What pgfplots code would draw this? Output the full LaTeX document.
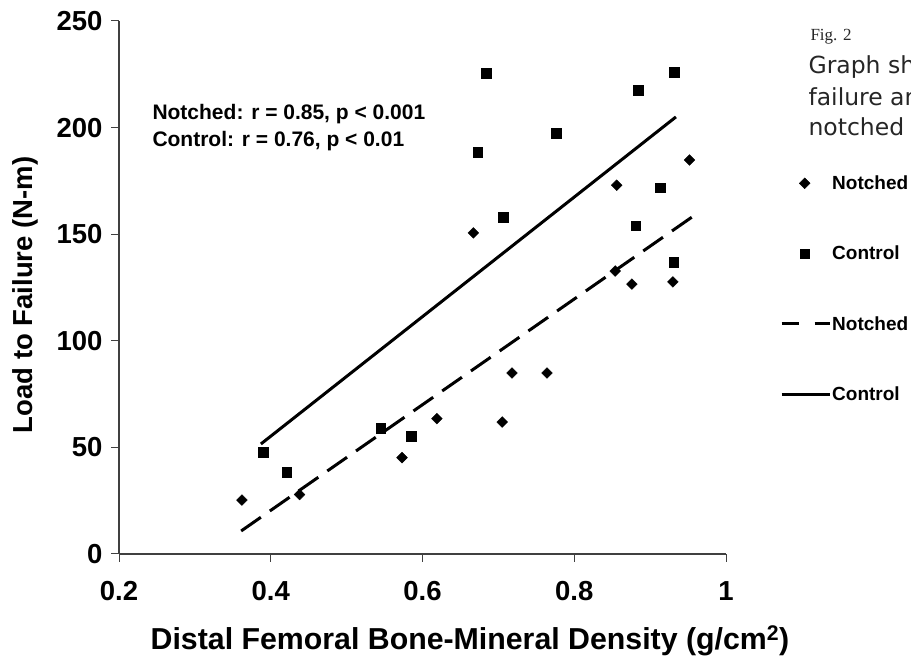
\documentclass[border=0pt]{standalone}
\usepackage{pgfplots}
\pgfplotsset{compat=1.18}
\usepackage{fontspec}
\setmainfont{Liberation Sans}
\newfontfamily\capserif{Liberation Serif}
\newfontfamily\capsans{DejaVu Sans}

\begin{document}
\begin{tikzpicture}[x=1pt,y=1pt]
\useasboundingbox (0,0) rectangle (911,656);
\begin{axis}[
  at={(119pt,102pt)}, anchor=south west,
  scale only axis, width=607pt, height=533pt,
  xmin=0.2, xmax=1, ymin=0, ymax=250,
  axis lines*=left,
  axis line style={line width=1.1pt, black!75},
  xtick={0.2,0.4,0.6,0.8,1}, ytick={0,50,100,150,200,250},
  tick align=outside, major tick length=8pt,
  tick style={line width=1pt, black!75},
  tick label style={font=\fontsize{27.5}{31}\selectfont\bfseries},
  /pgf/number format/assume math mode=true,
  xticklabel style={yshift=-16pt},
  yticklabel style={xshift=-5pt},
  clip=false,
  legend cell align=left,
  legend style={draw=none, fill=none, at={(rel axis cs:1.089,0.712)}, anchor=north west,
    font=\fontsize{19}{23}\selectfont\bfseries, row sep=53pt, inner sep=0pt,
    nodes={inner sep=1pt}},
  legend image code/.code={\draw[mark repeat=2,mark phase=2,#1] plot coordinates {(0pt,0pt) (23pt,0pt) (48pt,0pt)};},
]
% notched specimens
\addplot[only marks, mark=square*, mark size=3.8pt, mark options={rotate=45}] coordinates {
 (0.362,25.3) (0.438,27.9) (0.573,45.2) (0.619,63.5) (0.667,150.6) (0.705,61.9)
 (0.718,84.9) (0.764,84.9) (0.854,132.7) (0.856,173.0) (0.876,126.6) (0.930,127.6) (0.952,184.8) };
\addlegendentry{Notched}
% control specimens
\addplot[only marks, mark=square*, mark size=4.8pt] coordinates {
 (0.390,47.8) (0.421,38.5) (0.545,59.1) (0.585,55.3) (0.673,188.5) (0.684,225.6)
 (0.706,158.0) (0.776,197.4) (0.881,153.9) (0.884,217.6) (0.913,171.8) (0.931,137.0) (0.932,225.9) };
\addlegendentry{Control}
% regression lines
\addplot[line width=3pt, dash pattern=on 24pt off 11pt,
  legend image code/.code={\draw[line width=3pt, dash pattern=on 17pt off 16pt] (0pt,0pt) -- (48pt,0pt);}]
  coordinates {(0.361,10.8) (0.955,158.0)};
\addlegendentry{Notched}
\addplot[line width=3pt] coordinates {(0.387,51.6) (0.934,205.0)};
\addlegendentry{Control}

\node[anchor=west, align=left, font=\fontsize{21}{27}\selectfont\bfseries]
  at (axis cs:0.2395,200) {Notched: r = 0.85, p < 0.001\\Control: r = 0.76, p < 0.01};
\end{axis}

\node[rotate=90, font=\fontsize{27.5}{30}\selectfont\bfseries] at (25,361) {Load to Failure (N-m)};
\node[font=\fontsize{30.3}{34}\selectfont\bfseries] at (470,15) {Distal Femoral Bone-Mineral Density (g/cm\textsuperscript{2})};

\node[anchor=west, font=\capserif\fontsize{17}{20}\selectfont, black!85] at (807,619) {Fig. 2};
\node[anchor=west, font=\capsans\fontsize{23.5}{27}\selectfont, black!85] at (805,589) {Graph showing the};
\node[anchor=west, font=\capsans\fontsize{23.5}{27}\selectfont, black!85] at (805,559) {failure and bone};
\node[anchor=west, font=\capsans\fontsize{23.5}{27}\selectfont, black!85] at (805,529) {notched and control};
\end{tikzpicture}
\end{document}
